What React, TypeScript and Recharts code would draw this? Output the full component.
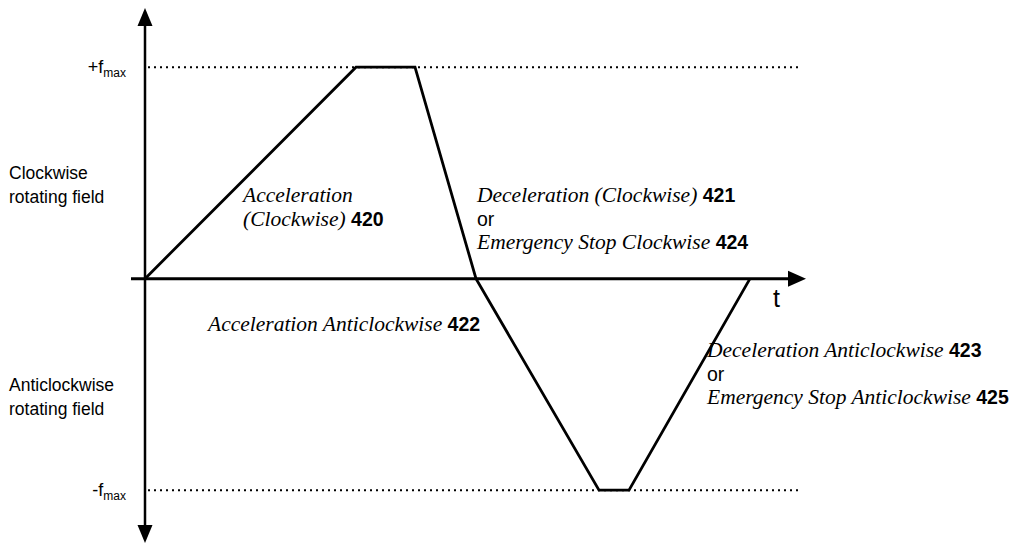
import React from 'react'
import { LineChart, Line, XAxis, YAxis, ReferenceLine } from 'recharts'

// time (arbitrary units) and output frequency (as a fraction of f_max)
const times = [0, 21.1, 27.0, 33.1, 45.4, 48.4, 60.5]
const freqs = [0, 1, 1, 0, -1, -1, 0]
const limitTicks = [1, -1]
const limitLabels = ['+f', '-f']

const data = times.map((t, i) => ({ t, f: freqs[i] }))

const serif = '"Liberation Serif", "Times New Roman", serif'
const sans = '"Liberation Sans", Arial, sans-serif'

const LimitTick = (props: any) => {
  const { x, y, payload } = props
  const idx = limitTicks.indexOf(payload.value)
  return (
    <text x={x + 3} y={y} textAnchor="end" dy={6} fontFamily={sans} fontSize={18} fill="#000">
      {limitLabels[idx]}
      <tspan fontSize={12} dy={4}>max</tspan>
    </text>
  )
}

const VerticalAxis = (props: any) => {
  const x = props.x1
  const top = Math.min(props.y1, props.y2)
  const bot = Math.max(props.y1, props.y2)
  return (
    <g>
      <line x1={x} y1={top + 15} x2={x} y2={bot - 15} stroke="#000" strokeWidth={2.5} />
      <polygon points={`${x},${top} ${x - 7.5},${top + 18} ${x + 7.5},${top + 18}`} fill="#000" />
      <polygon points={`${x},${bot} ${x - 7.5},${bot - 18} ${x + 7.5},${bot - 18}`} fill="#000" />
    </g>
  )
}

const HorizontalAxis = (props: any) => {
  const y = props.y1
  const left = Math.min(props.x1, props.x2)
  const right = Math.max(props.x1, props.x2)
  return (
    <g>
      <line x1={left} y1={y} x2={right - 14} y2={y} stroke="#000" strokeWidth={3} />
      <polygon points={`${right},${y} ${right - 18},${y - 8} ${right - 18},${y + 8}`} fill="#000" />
    </g>
  )
}

const Note = ({ x, y, children }: { x: number; y: number; children: React.ReactNode }) => (
  <div style={{ position: 'absolute', left: x, top: y, fontFamily: serif, fontStyle: 'italic', fontSize: 21.5, lineHeight: '23.5px', whiteSpace: 'nowrap', color: '#000' }}>
    {children}
  </div>
)

const Num = ({ children }: { children: React.ReactNode }) => (
  <b style={{ fontFamily: sans, fontStyle: 'normal', fontSize: 19.5 }}>{children}</b>
)

const Plain = ({ children }: { children: React.ReactNode }) => (
  <span style={{ fontFamily: sans, fontStyle: 'normal', fontSize: 19.5 }}>{children}</span>
)

const sideLabel: React.CSSProperties = { position: 'absolute', left: 9, fontFamily: sans, fontSize: 17.5, lineHeight: '23.5px', whiteSpace: 'nowrap' }

export default function App() {
  return (
    <div style={{ position: 'absolute', left: 0, top: 0, width: 1023, height: 545, background: '#fff' }}>
      <LineChart width={1023} height={545} data={data} margin={{ top: 8, right: 217, bottom: 2, left: 0 }}>
        <XAxis type="number" dataKey="t" domain={[-1.4, 66.1]} hide />
        <YAxis type="number" domain={[-1.25, 1.28]} ticks={limitTicks} width={131} axisLine={false} tickLine={false} tick={<LimitTick />} />
        <ReferenceLine segment={[{ x: 0.3, y: 1 }, { x: 65.5, y: 1 }]} stroke="#000" strokeWidth={2} strokeDasharray="2 4" />
        <ReferenceLine segment={[{ x: 0.3, y: -1 }, { x: 65.5, y: -1 }]} stroke="#000" strokeWidth={2} strokeDasharray="2 4" />
        <ReferenceLine x={0} shape={<VerticalAxis />} />
        <ReferenceLine y={0} shape={<HorizontalAxis />} />
        <Line type="linear" dataKey="f" stroke="#000" strokeWidth={2.8} dot={false} isAnimationActive={false} />
      </LineChart>

      <div style={{ ...sideLabel, top: 162 }}>
        Clockwise<br />rotating field
      </div>
      <div style={{ ...sideLabel, top: 374 }}>
        Anticlockwise<br />rotating field
      </div>
      <div style={{ position: 'absolute', left: 773, top: 284, fontFamily: sans, fontSize: 25 }}>t</div>

      <Note x={243} y={184}>
        Acceleration<br />(Clockwise) <Num>420</Num>
      </Note>
      <Note x={477} y={184}>
        Deceleration (Clockwise) <Num>421</Num><br />
        <Plain>or</Plain><br />
        Emergency Stop Clockwise <Num>424</Num>
      </Note>
      <Note x={208} y={313}>
        Acceleration Anticlockwise <Num>422</Num>
      </Note>
      <Note x={707} y={339}>
        Deceleration Anticlockwise <Num>423</Num><br />
        <Plain>or</Plain><br />
        Emergency Stop Anticlockwise <Num>425</Num>
      </Note>
    </div>
  )
}
